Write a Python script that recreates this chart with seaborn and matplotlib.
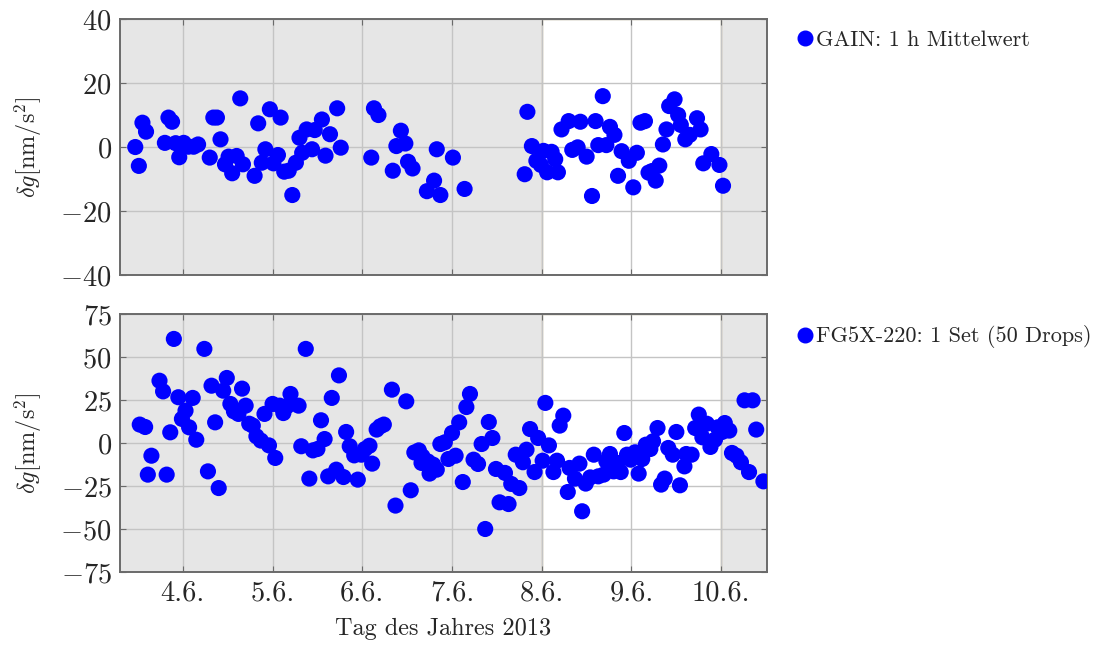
import matplotlib
matplotlib.use("Agg")
import matplotlib.pyplot as plt
import seaborn as sns
import pandas as pd
from matplotlib.lines import Line2D

# Day of year 2013 (June 4 = 155) and gravity residuals in nm/s^2
gain_day = [154.47, 154.51, 154.55, 154.59, 154.80, 154.84, 154.88, 154.92, 154.96, 155.01,
            155.06, 155.12, 155.17, 155.30, 155.34, 155.38, 155.42, 155.47, 155.51, 155.55,
            155.60, 155.64, 155.67, 155.80, 155.84, 155.88, 155.92, 155.97, 156.01, 156.06,
            156.09, 156.13, 156.18, 156.22, 156.26, 156.30, 156.33, 156.38, 156.44, 156.47,
            156.55, 156.59, 156.64, 156.72, 156.76, 157.10, 157.13, 157.18, 157.34, 157.38,
            157.43, 157.48, 157.51, 157.56, 157.72, 157.80, 157.83, 157.87, 158.01, 158.14,
            158.81, 158.84, 158.89, 158.94, 158.99, 159.02, 159.06, 159.11, 159.15, 159.18,
            159.22, 159.30, 159.34, 159.40, 159.43, 159.50, 159.56, 159.60, 159.63, 159.68,
            159.72, 159.76, 159.81, 159.85, 159.89, 159.97, 160.02, 160.06, 160.10, 160.15,
            160.19, 160.23, 160.27, 160.31, 160.35, 160.39, 160.42, 160.48, 160.52, 160.55,
            160.60, 160.65, 160.73, 160.77, 160.80, 160.89, 160.98, 161.02]
gain_dg = [0.0, -5.9, 7.6, 4.8, 1.3, 9.2, 7.9, 1.2, -3.2, 1.3,
           0.1, 0.1, 0.8, -3.3, 9.2, 9.2, 2.4, -5.4, -3.0, -8.2,
           -2.8, 15.2, -5.4, -9.0, 7.4, -4.9, -0.7, 11.8, -5.1, -2.5,
           9.2, -7.7, -7.4, -15.0, -4.9, 2.9, -1.8, 5.5, -0.7, 5.3,
           8.6, -2.7, 4.0, 12.1, -0.2, -3.3, 12.1, 10.0, -7.4, 0.3,
           5.1, 1.1, -4.6, -6.7, -13.8, -10.5, -0.7, -15.0, -3.3, -13.1,
           -8.5, 11.0, 0.3, -4.3, -5.6, -1.2, -7.9, -1.5, -3.8, -7.9,
           5.5, 8.1, -0.9, -0.1, 7.9, -3.0, -15.3, 8.1, 0.6, 15.9,
           0.6, 6.3, 3.8, -9.0, -1.3, -4.3, -12.6, -1.8, 7.6, 8.1,
           -8.0, -7.5, -10.5, -5.8, 0.8, 5.5, 12.8, 14.9, 10.0, 6.9,
           2.4, 3.8, 9.0, 5.5, -5.1, -2.2, -5.6, -12.1]

fg5_day = [154.52, 154.58, 154.61, 154.65, 154.74, 154.78, 154.82, 154.86, 154.90, 154.95,
           154.99, 155.03, 155.07, 155.11, 155.15, 155.24, 155.28, 155.32, 155.36, 155.40,
           155.45, 155.49, 155.53, 155.57, 155.62, 155.66, 155.70, 155.74, 155.78, 155.82,
           155.87, 155.91, 155.96, 156.00, 156.03, 156.08, 156.12, 156.16, 156.20, 156.29,
           156.32, 156.37, 156.41, 156.45, 156.50, 156.54, 156.58, 156.62, 156.66, 156.71,
           156.74, 156.79, 156.82, 156.86, 156.91, 156.95, 156.99, 157.03, 157.08, 157.11,
           157.16, 157.20, 157.24, 157.33, 157.37, 157.49, 157.54, 157.58, 157.63, 157.67,
           157.66, 157.73, 157.75, 157.79, 157.83, 157.87, 157.92, 157.96, 158.00, 158.04,
           158.08, 158.12, 158.16, 158.20, 158.24, 158.29, 158.33, 158.37, 158.41, 158.45,
           158.49, 158.53, 158.59, 158.63, 158.66, 158.71, 158.75, 158.79, 158.83, 158.87,
           158.92, 158.96, 159.01, 159.04, 159.08, 159.13, 159.17, 159.20, 159.24, 159.29,
           159.31, 159.37, 159.42, 159.45, 159.49, 159.54, 159.58, 159.63, 159.69, 159.72,
           159.76, 159.80, 159.84, 159.88, 159.92, 159.95, 159.99, 160.04, 160.08, 160.12,
           160.16, 160.21, 160.24, 160.29, 160.33, 160.37, 160.41, 160.46, 160.50, 160.54,
           160.59, 160.61, 160.67, 160.71, 160.75, 160.79, 160.84, 160.88, 160.93, 160.96,
           161.01, 161.04, 161.09, 161.12, 161.17, 161.22, 161.26, 161.31, 161.35, 161.39,
           161.47]
fg5_dg = [10.7, 9.3, -18.4, -7.4, 36.2, 30.0, -18.4, 6.2, 60.5, 26.6,
          14.0, 18.8, 9.1, 26.2, 1.9, 54.7, -16.5, 33.3, 12.0, -26.2,
          30.4, 37.8, 22.7, 18.4, 16.9, 31.6, 21.7, 11.2, 10.1, 3.9,
          1.4, 16.9, -1.4, 22.7, -8.7, 21.7, 17.4, 21.3, 28.5, 21.7,
          -1.9, 54.7, -20.7, -4.3, -3.5, 13.2, 2.3, -19.4, 26.2, -15.5,
          39.3, -19.8, 6.4, -1.9, -7.2, -21.3, -6.8, -3.5, -1.6, -12.0,
          7.8, 9.7, 10.7, 31.0, -36.4, 24.2, -27.5, -5.5, -4.3, -7.8,
          -11.6, -10.7, -17.8, -12.6, -15.5, -0.6, 0.4, -9.3, 5.8, -7.4,
          12.0, -22.7, 20.9, 28.5, -9.7, -12.2, -0.6, -50.0, 12.2, 2.9,
          -15.1, -34.5, -17.4, -35.5, -23.8, -6.8, -26.2, -11.2, -3.9, 8.1,
          -16.9, 2.9, -10.3, 23.3, -1.4, -16.9, -10.3, 10.1, 15.9, -28.5,
          -14.5, -20.7, -12.0, -39.7, -23.6, -20.0, -6.8, -19.4, -18.4, -10.7,
          -6.4, -16.5, -11.6, -16.9, 5.8, -6.8, -9.7, -5.4, -17.8, -9.3,
          -1.0, -3.5, 1.0, 8.7, -24.2, -20.7, -2.9, -6.8, 6.4, -24.6,
          -13.6, -6.4, -6.8, 8.7, 16.5, 3.3, 11.2, -2.3, 1.9, 9.1,
          6.4, 11.6, 7.2, -5.8, -7.4, -11.2, 24.8, -16.9, 24.8, 7.8,
          -22.3]

tick_days = [155, 156, 157, 158, 159, 160, 161]
tick_labels = ["4.6.", "5.6.", "6.6.", "7.6.", "8.6.", "9.6.", "10.6."]
white_span = (159, 161)
series_labels = ["GAIN: 1 h Mittelwert", "FG5X-220: 1 Set (50 Drops)"]

sns.set_style("ticks")
plt.rcParams["font.family"] = ["cmr10", "DejaVu Serif"]
plt.rcParams["mathtext.fontset"] = "cm"
plt.rcParams["axes.formatter.use_mathtext"] = True
plt.rcParams["axes.unicode_minus"] = True

gain = pd.DataFrame({"day": gain_day, "dg": gain_dg})
fg5 = pd.DataFrame({"day": fg5_day, "dg": fg5_dg})

fig = plt.figure(figsize=(10.96, 6.45), dpi=100)
ax1 = fig.add_axes([0.1095, 0.5736, 0.5903, 0.3969])
ax2 = fig.add_axes([0.1095, 0.1132, 0.5903, 0.4000])

blue = "#0000ff"
spine_col = "#6a6a6a"
for ax, df, lab, ylim, yticks in [
    (ax1, gain, series_labels[0], (-40, 40), [-40, -20, 0, 20, 40]),
    (ax2, fg5, series_labels[1], (-75, 75), [-75, -50, -25, 0, 25, 50, 75]),
]:
    ax.set_facecolor("#e6e6e6")
    ax.axvspan(*white_span, facecolor="white", edgecolor="#c8b898", linewidth=1.0, zorder=0)
    ax.set_axisbelow(True)
    ax.grid(True, color="#c4c4c4", linewidth=1.0)
    sns.scatterplot(data=df, x="day", y="dg", ax=ax, color=blue, s=135,
                    edgecolor="none", linewidth=0, zorder=3)
    ax.set_xlim(154.30, 161.51)
    ax.set_ylim(*ylim)
    ax.set_yticks(yticks)
    ax.set_xticks(tick_days)
    ax.tick_params(axis="both", direction="in", length=4, color=spine_col,
                   top=True, right=True, labelsize=20.5, pad=6)
    for s in ax.spines.values():
        s.set_color(spine_col)
        s.set_linewidth(1.4)
    ax.set_ylabel(r"$\delta g[\mathrm{nm/s^2}]$", fontsize=17.5)
    ax.yaxis.set_label_coords(-0.118, 0.5)
    handle = Line2D([], [], marker="o", linestyle="none", color=blue, markersize=10.5)
    ax.legend([handle], [lab], loc="upper left", bbox_to_anchor=(1.028, 0.99),
              frameon=False, fontsize=16, handletextpad=0.0, handlelength=1.0,
              borderaxespad=0)
    ax.set_xlabel("")

ax1.set_xticklabels([])
ax2.set_xticklabels(tick_labels)
ax2.set_xlabel("Tag des Jahres 2013", fontsize=17.5, labelpad=8)

fig.savefig("out.png", dpi=100)
